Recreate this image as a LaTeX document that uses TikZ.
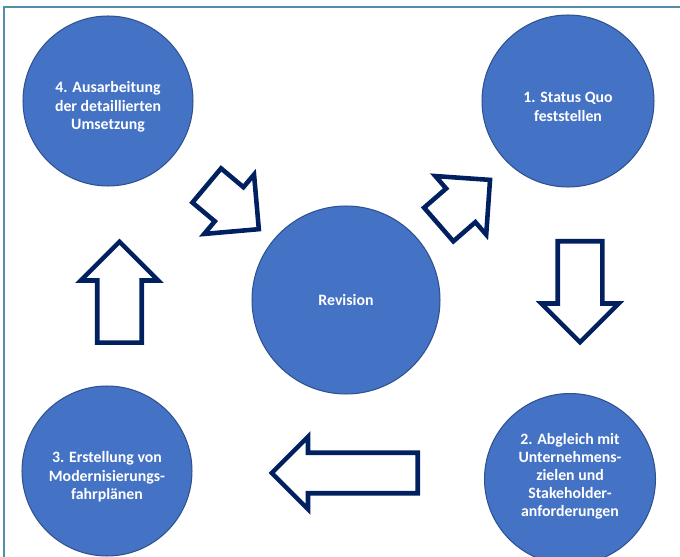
\documentclass[tikz,border=0pt]{standalone}
\usepackage{fontspec}
\setmainfont{Carlito}
\usetikzlibrary{shapes.arrows}
\definecolor{PhaseBlue}{RGB}{68,114,196}
\definecolor{PhaseEdge}{RGB}{47,82,143}
\definecolor{ArrowNavy}{RGB}{0,32,96}
\definecolor{FrameBlue}{RGB}{84,141,168}
\tikzset{
  phase/.style={circle, draw=PhaseEdge, line width=0.6pt, fill=PhaseBlue,
                minimum size=#1, inner sep=0pt, text=white, align=center,
                font=\fontsize{9}{10.6}\selectfont\bfseries},
  phasetext/.style={text=white, align=center, inner sep=0pt, yshift=-1.2mm,
                    font=\fontsize{9}{10.6}\selectfont\bfseries},
  flow/.style={single arrow, draw=ArrowNavy, line width=2.6pt, fill=white,
               anchor=tail, inner xsep=0pt, inner ysep=4mm,
               single arrow head extend=3.3mm, single arrow tip angle=90,
               minimum width=0pt, minimum height=#1},
  frame/.style={draw=FrameBlue, line width=0.9pt},
}

\begin{document}
\begin{tikzpicture}[x=0.02cm, y=-0.02cm]
  \useasboundingbox (0,0) rectangle (680,557);
  \clip (0,0) rectangle (680,557);
  \draw[frame] (4,570) |- (690,7);

  % phases of the cycle, text sits a little below the centre
  \node[phase=3.44cm, label={[phasetext]center:1. Status Quo\\feststellen}]
    (s1) at (568,101) {};
  \node[phase=3.42cm, label={[phasetext, yshift=1.8mm, font=\fontsize{9}{10.2}\selectfont\bfseries]center:2. Abgleich mit\\Unternehmens-\\zielen und\\Stakeholder-\\anforderungen}]
    (s2) at (570,479) {};
  \node[phase=3.4cm, label={[phasetext]center:3. Erstellung von\\Modernisierungs-\\fahrplänen}]
    (s3) at (107,471) {};
  \node[phase=3.4cm, label={[phasetext]center:4. Ausarbeitung\\der detaillierten\\Umsetzung}]
    (s4) at (108,101) {};
  \node[phase=3.76cm] (rev) at (346,300) {Revision};

  % block arrows between the phases
  \node[flow=2.02cm, rotate=-90] (a12) at (580,239) {};
  \node[flow=2.92cm, rotate=180, inner ysep=3.6mm,
        single arrow head extend=3.2mm] (a23) at (420,473) {};
  \node[flow=2.02cm, rotate=90] (a34) at (119.5,345) {};
  \node[flow=1.36cm, rotate=-40] (a4r) at (205,184) {};
  \node[flow=1.36cm, rotate=41] (ar1) at (437,226) {};
\end{tikzpicture}
\end{document}
